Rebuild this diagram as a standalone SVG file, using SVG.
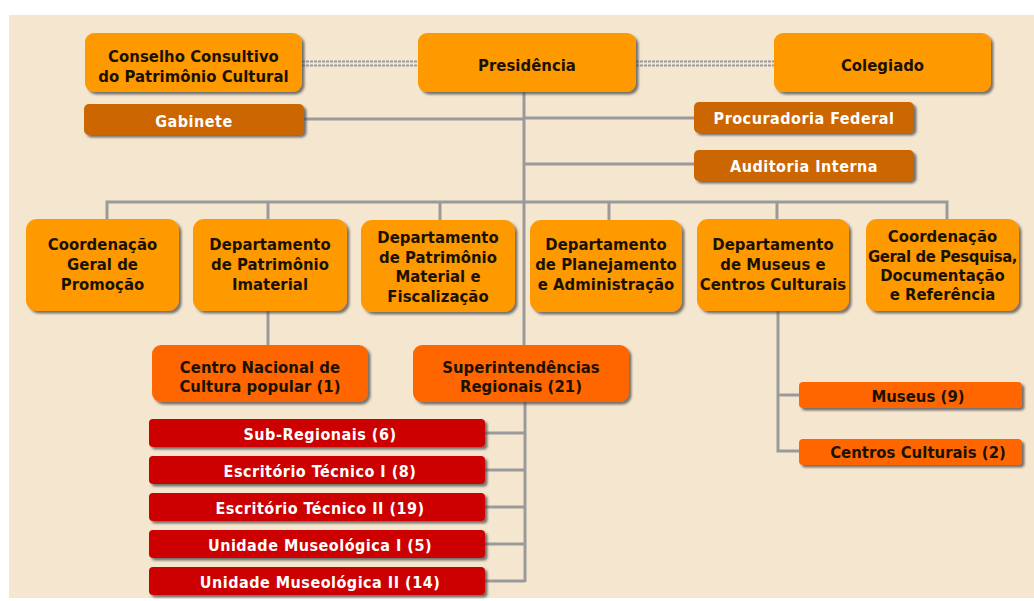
<svg xmlns="http://www.w3.org/2000/svg" width="1034" height="601" viewBox="0 0 1034 601">
  <defs>
    <filter id="sh" x="-10%" y="-20%" width="125%" height="150%">
      <feDropShadow dx="2.5" dy="2.5" stdDeviation="1.2" flood-color="#4a4a4a" flood-opacity="0.75"/>
    </filter>
  </defs>
  <style>
    .big { fill: #FF9900; filter: url(#sh); }
    .mid { fill: #FF6600; filter: url(#sh); }
    .brn { fill: #CC6600; filter: url(#sh); }
    .red { fill: #CC0000; filter: url(#sh); }
    text { font-family: "DejaVu Sans Condensed", "DejaVu Sans", sans-serif; font-stretch: condensed; font-weight: bold; font-size: 16.5px; letter-spacing: 0.05px; text-anchor: middle; }
    .dk { fill: #1a1200; }
    .tight { letter-spacing: -0.4px; }
    .wt { fill: #ffffff; font-size: 16px; letter-spacing: 0.5px; }
    .ln { stroke: #9a9a9a; stroke-width: 3; fill: none; }
    .dash { stroke: #9a9a9a; stroke-width: 2; stroke-dasharray: 3 1; fill: none; }
  </style>

  <!-- page background -->
  <rect x="0" y="0" width="1034" height="601" fill="#ffffff"/>
  <rect x="9" y="15" width="1025" height="583" fill="#F5E6CF"/>

  <!-- connectors -->
  <g id="connectors">
    <!-- advisory links -->
    <path class="dash" d="M302 61.5 H418 M302 65.5 H418 M636 61.5 H774 M636 65.5 H774"/>
    <!-- presidency trunk -->
    <path class="ln" d="M524 92 V346"/>
    <path class="ln" d="M304 119 H524 M524 118 H694 M524 164 H694"/>
    <!-- department bus -->
    <path class="ln" d="M107 219 V202 H947 V219 M268 202 V219 M440 202 V220 M609 202 V220 M777 202 V219"/>
    <!-- intangible heritage -->
    <path class="ln" d="M268 311 V345"/>
    <!-- regional units -->
    <path class="ln" d="M525 402 V582 M485 433 H525 M485 470 H525 M485 507 H525 M485 544 H525 M485 581 H525"/>
    <!-- museums -->
    <path class="ln" d="M778 311 V451 H799 M778 395 H799"/>
  </g>

  <!-- top level -->
  <g id="conselho">
    <rect class="big" x="85" y="33" width="217" height="59" rx="9"/>
    <text class="dk" x="193.5" y="62">Conselho Consultivo</text>
    <text class="dk" x="193.5" y="82">do Patrimônio Cultural</text>
  </g>
  <g id="presidencia">
    <rect class="big" x="418" y="33" width="218" height="59" rx="9"/>
    <text class="dk" x="527" y="71">Presidência</text>
  </g>
  <g id="colegiado">
    <rect class="big" x="774" y="33" width="217" height="59" rx="9"/>
    <text class="dk" x="882.5" y="71">Colegiado</text>
  </g>

  <!-- staff units -->
  <g id="gabinete">
    <rect class="brn" x="84" y="104" width="220" height="31" rx="5"/>
    <text class="wt" x="194" y="127">Gabinete</text>
  </g>
  <g id="procuradoria">
    <rect class="brn" x="694" y="102" width="220" height="31" rx="5"/>
    <text class="wt" x="804" y="124">Procuradoria Federal</text>
  </g>
  <g id="auditoria">
    <rect class="brn" x="694" y="150" width="220" height="31" rx="5"/>
    <text class="wt" x="804" y="172">Auditoria Interna</text>
  </g>

  <!-- departments -->
  <g id="cg-promocao">
    <rect class="big" x="26" y="219" width="153" height="92" rx="11"/>
    <text class="dk" x="102.5" y="250">Coordenação</text>
    <text class="dk" x="102.5" y="270">Geral de</text>
    <text class="dk" x="102.5" y="290">Promoção</text>
  </g>
  <g id="dep-imaterial">
    <rect class="big" x="193" y="219" width="154" height="92" rx="11"/>
    <text class="dk" x="270" y="250">Departamento</text>
    <text class="dk" x="270" y="270">de Patrimônio</text>
    <text class="dk" x="270" y="290">Imaterial</text>
  </g>
  <g id="dep-material">
    <rect class="big" x="361" y="220" width="154" height="92" rx="11"/>
    <text class="dk" x="438" y="243">Departamento</text>
    <text class="dk" x="438" y="262.5">de Patrimônio</text>
    <text class="dk" x="438" y="282">Material e</text>
    <text class="dk" x="438" y="301.5">Fiscalização</text>
  </g>
  <g id="dep-planejamento">
    <rect class="big" x="530" y="220" width="152" height="92" rx="11"/>
    <text class="dk" x="606" y="250">Departamento</text>
    <text class="dk" x="606" y="270">de Planejamento</text>
    <text class="dk" x="606" y="290">e Administração</text>
  </g>
  <g id="dep-museus">
    <rect class="big" x="697" y="219" width="152" height="92" rx="11"/>
    <text class="dk" x="773" y="250">Departamento</text>
    <text class="dk" x="773" y="270">de Museus e</text>
    <text class="dk" x="773" y="290">Centros Culturais</text>
  </g>
  <g id="cg-pesquisa">
    <rect class="big" x="866" y="219" width="153" height="92" rx="11"/>
    <text class="dk" x="942.5" y="242">Coordenação</text>
    <text class="dk tight" x="942.5" y="262">Geral de Pesquisa,</text>
    <text class="dk" x="942.5" y="281">Documentação</text>
    <text class="dk" x="942.5" y="300">e Referência</text>
  </g>

  <!-- second level -->
  <g id="cnfcp">
    <rect class="mid" x="152" y="345" width="216" height="57" rx="9"/>
    <text class="dk" x="260" y="373">Centro Nacional de</text>
    <text class="dk" x="260" y="392">Cultura popular (1)</text>
  </g>
  <g id="superintendencias">
    <rect class="mid" x="413" y="345" width="216" height="57" rx="9"/>
    <text class="dk" x="521" y="373">Superintendências</text>
    <text class="dk" x="521" y="392">Regionais (21)</text>
  </g>
  <g id="museus">
    <rect class="mid" x="799" y="382" width="223" height="26" rx="4"/>
    <text class="dk" x="918" y="402">Museus (9)</text>
  </g>
  <g id="centros">
    <rect class="mid" x="799" y="439" width="223" height="26" rx="4"/>
    <text class="dk" x="918" y="458">Centros Culturais (2)</text>
  </g>

  <!-- regional units -->
  <g id="sub-regionais">
    <rect class="red" x="149" y="419" width="336" height="28" rx="4"/>
    <text class="wt" x="320" y="440">Sub-Regionais (6)</text>
  </g>
  <g id="escritorio-1">
    <rect class="red" x="149" y="456" width="336" height="28" rx="4"/>
    <text class="wt" x="320" y="477">Escritório Técnico I (8)</text>
  </g>
  <g id="escritorio-2">
    <rect class="red" x="149" y="493" width="336" height="28" rx="4"/>
    <text class="wt" x="320" y="514">Escritório Técnico II (19)</text>
  </g>
  <g id="museologica-1">
    <rect class="red" x="149" y="530" width="336" height="28" rx="4"/>
    <text class="wt" x="320" y="551">Unidade Museológica I (5)</text>
  </g>
  <g id="museologica-2">
    <rect class="red" x="149" y="567" width="336" height="28" rx="4"/>
    <text class="wt" x="320" y="588">Unidade Museológica II (14)</text>
  </g>
</svg>
